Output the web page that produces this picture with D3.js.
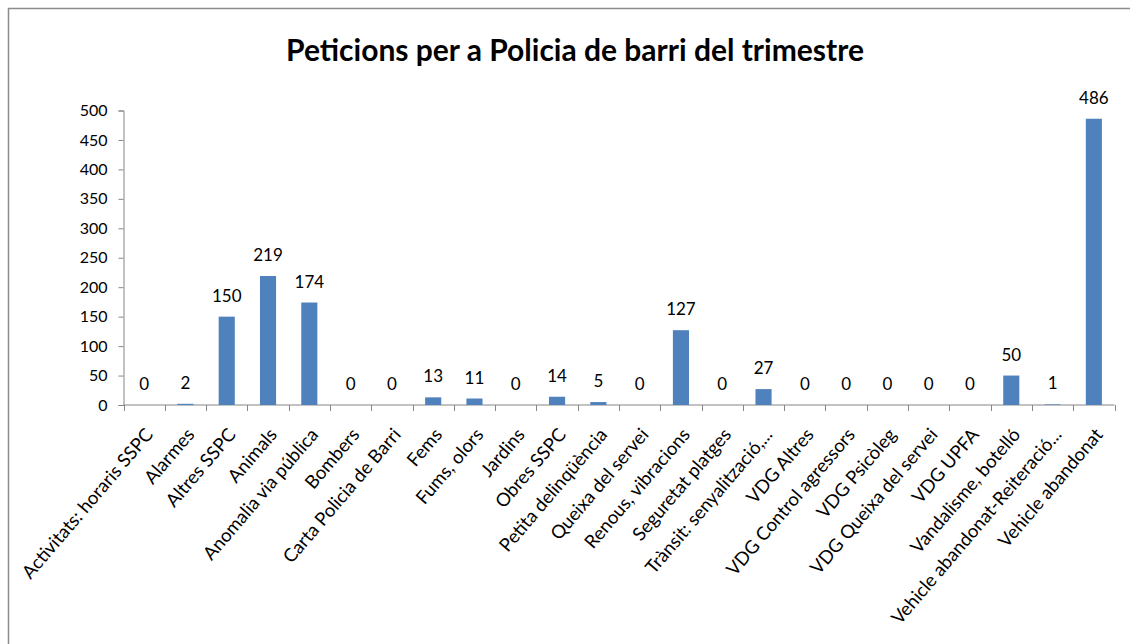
<!DOCTYPE html>
<html lang="ca">
<head>
<meta charset="UTF-8">
<title>Peticions per a Policia de barri del trimestre</title>
<script src="https://d3js.org/d3.v7.min.js"></script>
<style>
  body { margin: 0; background: #fff; }
  text { font-family: Lato, "Liberation Sans", sans-serif; fill: #000; }
</style>
</head>
<body>
<div id="chart"></div>
<script>
// categories and values
const categories = [
  "Activitats: horaris SSPC", "Alarmes", "Altres SSPC", "Animals",
  "Anomalia via pública", "Bombers", "Carta Policia de Barri", "Fems",
  "Fums, olors", "Jardins", "Obres SSPC", "Petita delinqüència",
  "Queixa del servei", "Renous, vibracions", "Seguretat platges",
  "Trànsit: senyalització,...", "VDG Altres", "VDG Control agressors",
  "VDG Psicòleg", "VDG Queixa del servei", "VDG UPFA",
  "Vandalisme, botelló", "Vehicle abandonat-Reiteració...", "Vehicle abandonat"
]
const values = [0, 2, 150, 219, 174, 0, 0, 13, 11, 0, 14, 5, 0, 127, 0, 27, 0, 0, 0, 0, 0, 50, 1, 486]
const yTicks = [0, 50, 100, 150, 200, 250, 300, 350, 400, 450, 500]
const title = "Peticions per a Policia de barri del trimestre"

var width = 1130
var height = 644
var plotLeft = 123.5, plotRight = 1114.5, plotTop = 110.5, plotBottom = 405

const svg = d3.select("#chart").append("svg")
    .attr("width", width)
    .attr("height", height)

// chart frame
svg.append("rect")
    .attr("x", 8.5).attr("y", 8.5)
    .attr("width", width).attr("height", height)
    .attr("fill", "none")
    .attr("stroke", "#8c8c8c")
    .attr("stroke-width", 1.5)

svg.append("text")
    .attr("x", 575).attr("y", 61)
    .attr("text-anchor", "middle")
    .attr("font-size", 30)
    .attr("font-weight", "bold")
    .text(title)

var x = d3.scaleBand().domain(categories).range([plotLeft, plotRight])
var y = d3.scaleLinear().domain([0, 500]).range([plotBottom, plotTop])

// y axis
var yAxis = svg.append("g")
    .attr("transform", "translate(" + plotLeft + ",0)")
    .call(d3.axisLeft(y).tickValues(yTicks).tickSize(5).tickPadding(11))
yAxis.selectAll("line, path").attr("stroke", "#868686")
yAxis.selectAll("text").attr("font-size", 16).attr("font-family", "Lato, sans-serif").attr("fill", "#000")

// x axis: ticks on band edges
var xAxis = svg.append("g").attr("transform", "translate(0," + plotBottom + ")")
xAxis.append("line")
    .attr("x1", plotLeft).attr("x2", plotRight)
    .attr("stroke", "#868686")
xAxis.selectAll(".tk")
    .data(categories.concat(["_end"]))
    .enter().append("line")
    .attr("x1", (d, i) => Math.round(plotLeft + i * x.step()) + 0.5)
    .attr("x2", (d, i) => Math.round(plotLeft + i * x.step()) + 0.5)
    .attr("y1", 0).attr("y2", 6)
    .attr("stroke", "#868686")

// slanted category labels (the picture is slightly stretched, so a bit steeper than 45deg)
svg.selectAll(".xlab")
    .data(categories)
    .enter().append("text")
    .attr("class", "xlab")
    .attr("transform", d => "translate(" + (x(d) + x.bandwidth() / 2 + 5) + "," + (plotBottom + 26) + ") rotate(-49.5)")
    .attr("text-anchor", "end")
    .attr("dy", "0.35em")
    .attr("font-size", 18.5)
    .text(d => d)

// bars
var bw = x.bandwidth() * 0.39
svg.selectAll(".bar")
    .data(values)
    .enter().append("rect")
    .attr("class", "bar")
    .attr("x", (d, i) => x(categories[i]) + x.bandwidth() / 2 - bw / 2)
    .attr("y", d => y(d))
    .attr("width", bw)
    .attr("height", d => plotBottom - y(d))
    .attr("fill", "#4F81BD")

// value labels
svg.selectAll(".val")
    .data(values)
    .enter().append("text")
    .attr("class", "val")
    .attr("x", (d, i) => x(categories[i]) + x.bandwidth() / 2)
    .attr("y", d => y(d) - 15)
    .attr("text-anchor", "middle")
    .attr("font-size", 17)
    .text(d => d)
</script>
</body>
</html>
